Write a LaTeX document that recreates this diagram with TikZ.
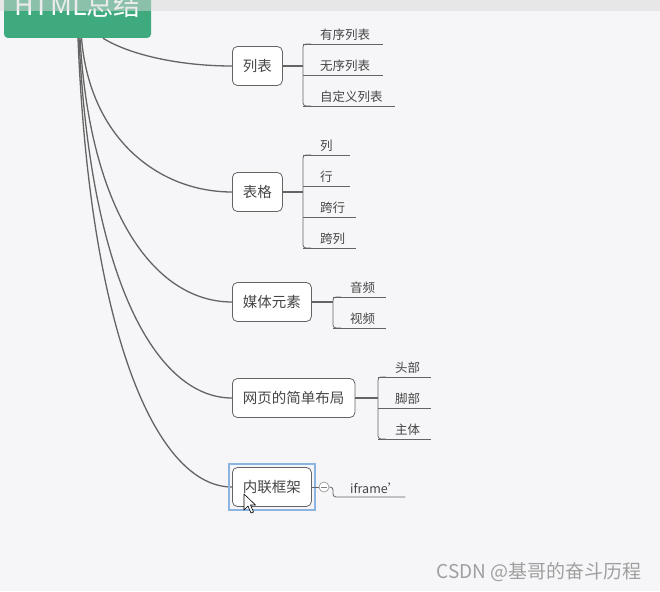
\documentclass[tikz,border=0pt]{standalone}
\usepackage{fontspec}
\setmainfont{Noto Sans CJK SC}
\usepackage{tikz}
\usetikzlibrary{calc, positioning}
\definecolor{rootgreen}{RGB}{62,170,126}
\definecolor{bgpaper}{RGB}{246,246,248}
\definecolor{linegray}{RGB}{100,100,100}
\definecolor{textgray}{RGB}{70,70,70}
\definecolor{selblue}{RGB}{140,180,225}
\tikzset{
  roottopic/.style={fill=rootgreen, rounded corners=4pt, text=white, minimum width=147pt, minimum height=66pt, font=\fontsize{27}{30}\selectfont},
  topic/.style={draw=linegray, fill=white, rounded corners=5pt, minimum height=39pt, inner xsep=10.5pt, anchor=west, text=textgray, line width=0.8pt, font=\fontsize{14.5}{16}\selectfont},
  subtopic/.style={anchor=west, inner sep=0pt, text=textgray, font=\fontsize{12.5}{14}\selectfont},
  branch/.style={draw=linegray, line width=1.3pt},
  twig/.style={draw=linegray, line width=0.8pt},
}

\begin{document}
\begin{tikzpicture}[x=1pt, y=-1pt]
  \useasboundingbox (0,0) rectangle (660,591);
  \fill[bgpaper] (0,0) rectangle (660,591);
  \begin{scope}
    \clip (0,0) rectangle (660,591);
    \node[roottopic] (root) at (77.5,5) {HTML总结};
  \end{scope}
  \fill[gray!30, opacity=0.5] (0,0) rectangle (660,11);

  % main topics
  \foreach \label/\ypos/\name in {列表/66/lb, 表格/192/bg, 媒体元素/302/mt, 网页的简单布局/398/wy, 内联框架/487/nl}{
    \node[topic] (\name) at (232,\ypos) {\label};
  }
  \draw[branch] ($(root.south)+(25.5,0)$) .. controls (130,55) and (180,66) .. (lb.west);
  \draw[branch] ($(root.south)+(4,0)$) .. controls (90,140) and (160,192) .. (bg.west);
  \draw[branch] ($(root.south)+(2.5,0)$) .. controls (90,215) and (156,302) .. (mt.west);
  \draw[branch] ($(root.south)+(1.5,0)$) .. controls (90,279) and (156,398) .. (wy.west);
  \draw[branch] ($(root.south)+(0.5,0)$) .. controls (90,339) and (158,487) .. (nl.west);

  % brackets
  \foreach \name/\xb/\ya/\yb in {lb/303/44/106, bg/303/155/248, mt/333/297/328, wy/378/377/439}{
    \coordinate (\name k) at (\xb,\ya);
    \draw[branch] (\name.east) -- (\name.east -| \name k);
    \draw[twig, rounded corners=3pt] (\xb+8,\ya) -- (\xb,\ya) -- (\xb,\yb) -- (\xb+8,\yb);
  }

  % subtopics
  \foreach \txt/\yl/\xe [count=\i] in {有序列表/44/383, 无序列表/75/383, 自定义列表/106/395}{
    \node[subtopic] (lb\i) at (320,\yl-9) {\txt};
    \draw[twig] (303,\yl) -- (\xe,\yl);
  }
  \foreach \txt/\yl/\xe [count=\i] in {列/155/350, 行/186/350, 跨行/217/356, 跨列/248/356}{
    \node[subtopic] (bg\i) at (320,\yl-9) {\txt};
    \draw[twig] (303,\yl) -- (\xe,\yl);
  }
  \foreach \txt/\yl/\xe [count=\i] in {音频/297/386, 视频/328/386}{
    \node[subtopic] (mt\i) at (350,\yl-9) {\txt};
    \draw[twig] (333,\yl) -- (\xe,\yl);
  }
  \foreach \txt/\yl/\xe [count=\i] in {头部/377/431, 脚部/408/431, 主体/439/431}{
    \node[subtopic] (wy\i) at (395,\yl-9) {\txt};
    \draw[twig] (378,\yl) -- (\xe,\yl);
  }

  % selected topic
  \draw[selblue, line width=1.5pt] ($(nl.south west)+(-3,3)$) rectangle ($(nl.north east)+(3,-3)$);
  \node[draw=gray!80, fill=white, circle, minimum size=10pt, inner sep=0pt, line width=0.7pt] (nlc) at (324,487) {};
  \draw[gray] ($(nlc.west)+(2.5,0)$) -- ($(nlc.east)+(-2.5,0)$);
  \draw[twig] (nl.east) -- (nlc.west);
  \node[subtopic] (nl1) at (350,488) {iframe'};
  \draw[twig, rounded corners=3pt] (nlc.east) -- (333,487) -- (333,497) -- (nl1.east |- 0,497) -- ++(5,0);

  % mouse pointer
  \draw[black, fill=white, line width=0.6pt, line join=round] (244,494) -- (244,510) -- (248,506) -- (251,513) -- (253.5,512) -- (250.5,505) -- (255.5,505) -- cycle;

  \node[anchor=east, text=gray!75, font=\fontsize{19}{21}\selectfont] (mark) at (645,572) {CSDN @基哥的奋斗历程};
\end{tikzpicture}
\end{document}
